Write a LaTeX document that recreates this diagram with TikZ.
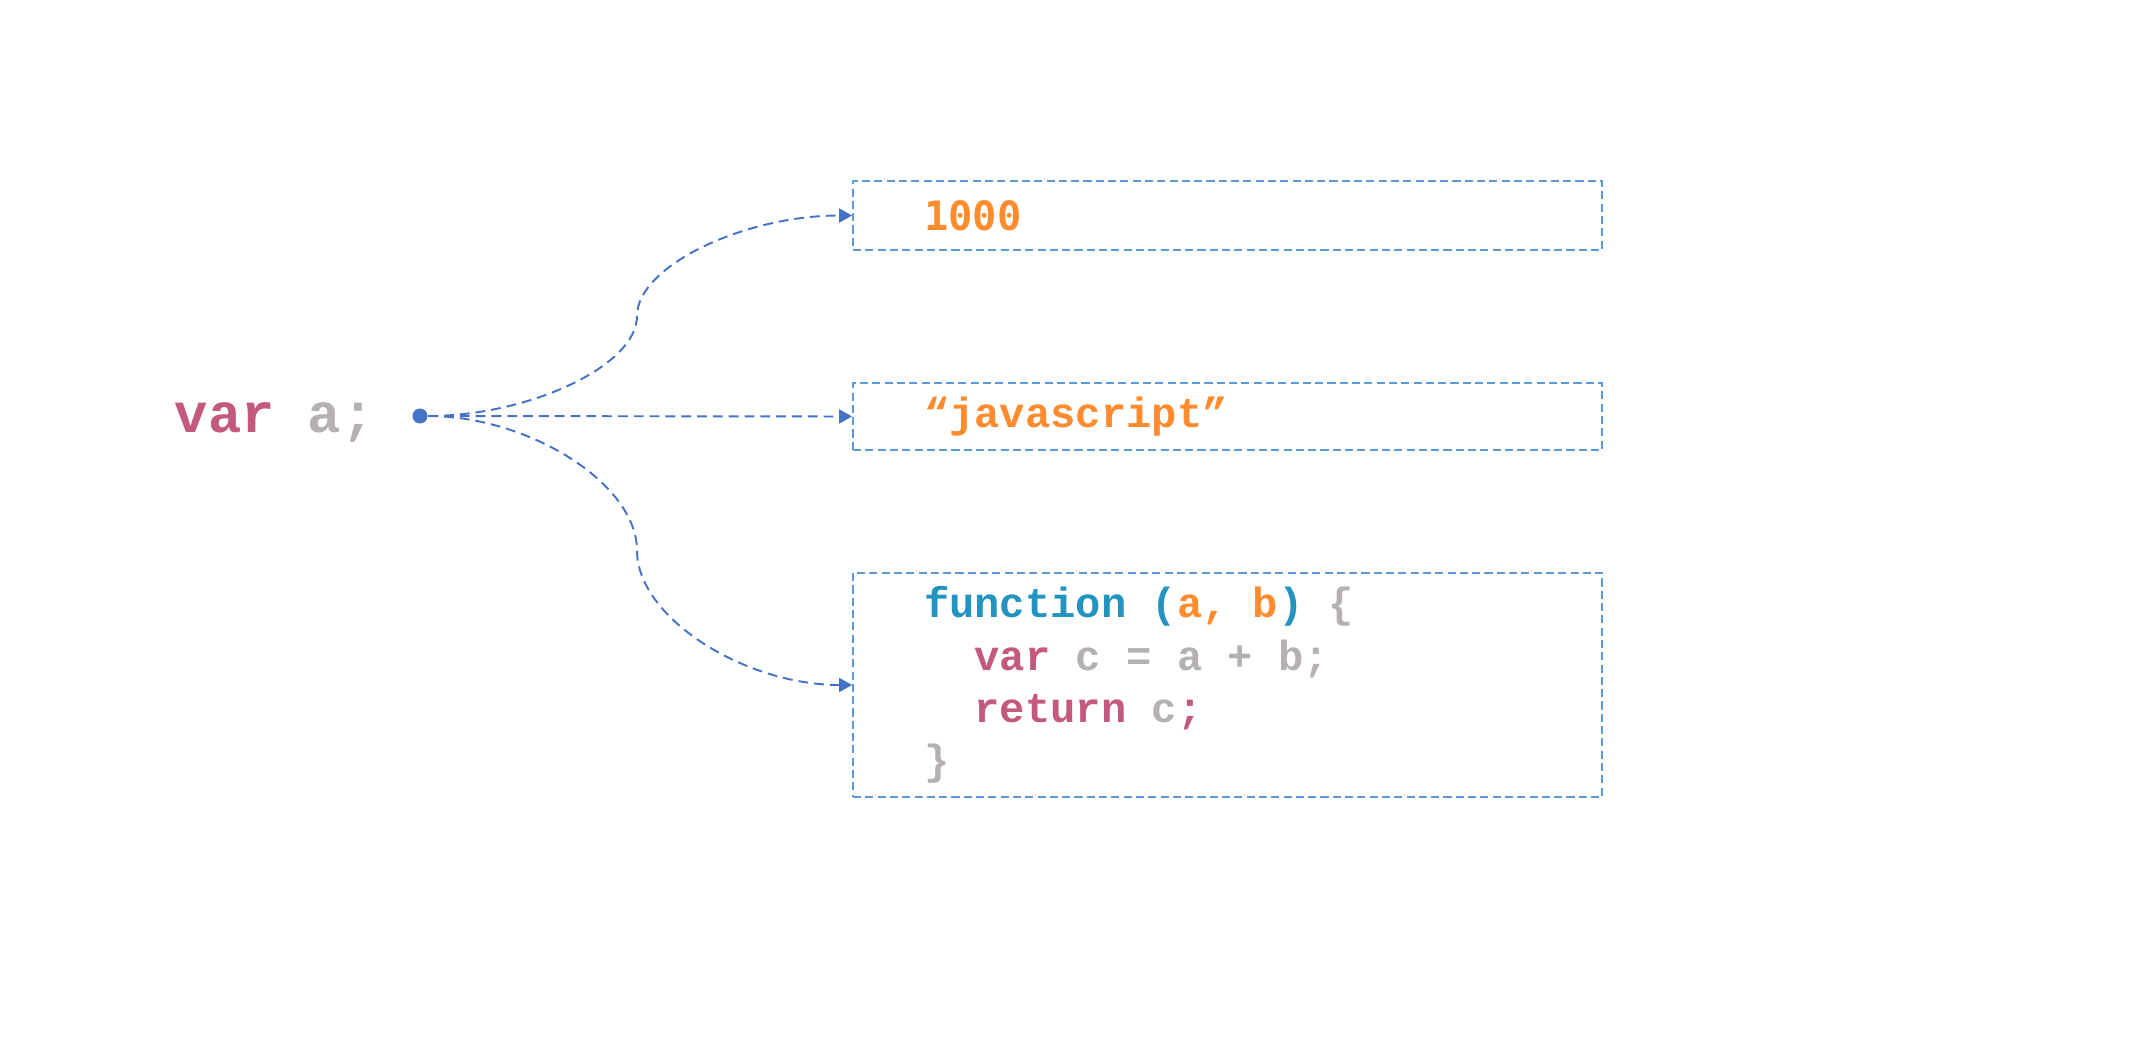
\documentclass[tikz,border=0pt]{standalone}
\usepackage{fontspec}
\setmonofont{Liberation Mono}
\newfontfamily\numfont{DejaVu Sans Mono}
\usetikzlibrary{arrows.meta}
\definecolor{kwpink}{HTML}{C45A7B}
\definecolor{txtgrey}{HTML}{B5B1B2}
\definecolor{valorange}{HTML}{FF8B2F}
\definecolor{fnblue}{HTML}{2394BF}
\definecolor{refblue}{HTML}{4472C4}
\definecolor{boxblue}{HTML}{5B9BD5}

\begin{document}
\begin{tikzpicture}[
  valbox/.style={draw=boxblue, line width=0.5pt, dash pattern=on 2.3pt off 1.2pt,
    text width=6.07cm, inner xsep=0.71cm, align=left,
    font=\ttfamily\bfseries\fontsize{12}{14.9}\selectfont,
    execute at begin node={\spaceskip=7.2pt\relax}},
  ref/.style={draw=refblue, line width=0.55pt, dash pattern=on 2.8pt off 1.7pt,
    -{Triangle[length=0.13cm,width=0.14cm]}}
]
\useasboundingbox (0,0) rectangle (21.3,10.5);
% Define the nodes
\node (var) [anchor=base west, inner sep=0pt, font=\ttfamily\bfseries\fontsize{15.8}{18}\selectfont] at (1.74,6.18) {\textcolor{kwpink}{var} \textcolor{txtgrey}{a;}};
\node (dot) [circle, fill=refblue, inner sep=0pt, minimum size=0.15cm] at (4.20,6.34) {};
\node (num) [valbox, minimum height=0.69cm] at (12.275,8.345) {\numfont\fontsize{11.5}{14}\selectfont\textcolor{valorange}{1000}};
\node (str) [valbox, minimum height=0.67cm] at (12.275,6.335) {\textcolor{valorange}{“javascript”}};
\node (fn) [valbox, minimum height=2.24cm] at (12.275,3.65) {%
  \textcolor{fnblue}{function (}\textcolor{valorange}{a, b}\textcolor{fnblue}{)} \textcolor{txtgrey}{\{}\\
  \hphantom{xx}\textcolor{kwpink}{var} \textcolor{txtgrey}{c = a + b;}\\
  \hphantom{xx}\textcolor{kwpink}{return} \textcolor{txtgrey}{c}\textcolor{kwpink}{;}\\
  \textcolor{txtgrey}{\}}};
\coordinate (up) at (6.37,7.34);
\coordinate (low) at (6.37,4.995);

% Connect the nodes
\draw[ref] (dot) .. controls +(1.085,0) and +(0,-0.5) .. (up) .. controls +(0,0.5) and +(-1.08,0) .. (num.west);
\draw[ref] (dot) -- (str.west);
\draw[ref] (dot) .. controls +(1.085,0) and +(0,0.67) .. (low) .. controls +(0,-0.67) and +(-1.08,0) .. (fn.west);
\end{tikzpicture}
\end{document}
